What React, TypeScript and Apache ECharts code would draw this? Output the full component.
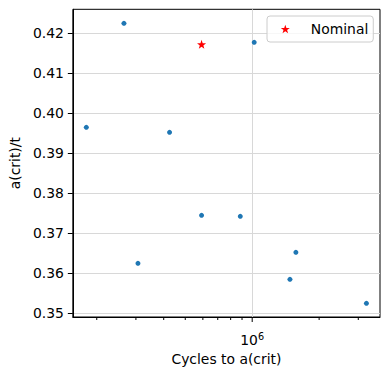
import React, { useEffect, useRef } from "react";
import * as echarts from "echarts";

const cycles = [1.795e5, 2.65e5, 3.064e5, 4.25e5, 5.92e5, 8.84e5, 1.021e6, 1.572e6, 1.478e6, 3.263e6];
const ratio = [0.3965, 0.4225, 0.3625, 0.39525, 0.3745, 0.37425, 0.41775, 0.36525, 0.3585, 0.3525];
const nominalCycles = [5.92e5];
const nominalRatio = [0.41725];
const yTicks = [0.35, 0.36, 0.37, 0.38, 0.39, 0.4, 0.41, 0.42];
const xMajorTicks = [1e6];
const xMinorTicks = [2e5, 3e5, 4e5, 5e5, 6e5, 7e5, 8e5, 9e5, 2e6, 3e6];

const STAR =
  "path://M0,-10 L2.35,-3.24 L9.51,-3.09 L3.8,1.24 L5.88,8.09 L0,4 L-5.88,8.09 L-3.8,1.24 L-9.51,-3.09 L-2.35,-3.24 Z";
const FONT = "DejaVu Sans";
const Y_MIN = 0.34908;
const Y_MAX = 0.426;

function tickSeries(values: number[], len: number) {
  return {
    type: "custom",
    xAxisIndex: 0,
    yAxisIndex: 0,
    silent: true,
    clip: false,
    z: 5,
    data: values.map((v) => [v, Y_MIN]),
    renderItem: (_p: any, api: any) => {
      const pt = api.coord([api.value(0), api.value(1)]);
      return {
        type: "line",
        shape: { x1: pt[0], y1: pt[1], x2: pt[0], y2: pt[1] + len },
        style: { stroke: "#000", lineWidth: 1 },
      };
    },
  };
}

export default function App() {
  const ref = useRef<HTMLDivElement>(null);
  useEffect(() => {
    const chart = echarts.init(ref.current!, null, { renderer: "svg" });
    const xMin = 1.561e5;
    const xMax = 3.756e6;
    chart.setOption({
      animation: false,
      textStyle: { fontFamily: FONT },
      grid: {
        left: 70.7,
        right: 10,
        top: 9.3,
        bottom: 58,
        show: true,
        borderColor: "#000",
        borderWidth: 1,
        backgroundColor: "transparent",
      },
      legend: {
        left: 267,
        top: 16,
        padding: [6, 5, 6, 13.8],
        itemWidth: 9,
        itemHeight: 9,
        backgroundColor: "rgba(255,255,255,0.8)",
        borderColor: "#cccccc",
        borderWidth: 1,
        borderRadius: 3,
        data: [{ name: "Nominal", icon: STAR }],
        textStyle: { fontFamily: FONT, fontSize: 13.9, color: "#000", padding: [0, 0, 0, 16] },
      },
      xAxis: {
        type: "log",
        logBase: 10,
        min: xMin,
        max: xMax,
        name: "Cycles to a(crit)",
        nameLocation: "middle",
        nameGap: 34,
        nameTextStyle: { fontFamily: FONT, fontSize: 13.9, color: "#000", verticalAlign: "top" },
        axisLine: { show: true, lineStyle: { color: "#000", width: 1 } },
        axisTick: { show: false, customValues: xMajorTicks },
        axisLabel: {
          customValues: xMajorTicks,
          margin: 14,
          formatter: () => "{b|10}{s|6}",
          rich: {
            b: { fontFamily: FONT, fontSize: 13.9, color: "#000" },
            s: { fontFamily: FONT, fontSize: 9.7, color: "#000", verticalAlign: "bottom", padding: [0, 0, 8, 0] },
          },
        },
        splitLine: { show: true, lineStyle: { color: "#d8d8d8", width: 1 } },
      },
      yAxis: {
        type: "value",
        min: Y_MIN,
        max: Y_MAX,
        name: "a(crit)/t",
        nameLocation: "middle",
        nameGap: 48,
        nameTextStyle: { fontFamily: FONT, fontSize: 13.9, color: "#000" },
        axisLine: { show: true, lineStyle: { color: "#000", width: 1 } },
        axisTick: { show: true, length: 5, customValues: yTicks, lineStyle: { color: "#000" } },
        axisLabel: {
          customValues: yTicks,
          margin: 9,
          fontFamily: FONT,
          fontSize: 13.9,
          color: "#000",
          formatter: (v: number) => v.toFixed(2),
        },
        splitLine: { show: true, lineStyle: { color: "#d8d8d8", width: 1 } },
      },
      series: [
        tickSeries(xMajorTicks, 5),
        tickSeries(xMinorTicks, 3),
        {
          type: "scatter",
          xAxisIndex: 0,
          data: cycles.map((c, i) => [c, ratio[i]]),
          symbolSize: 5,
          itemStyle: { color: "#1f77b4", opacity: 1 },
        },
        {
          name: "Nominal",
          type: "scatter",
          xAxisIndex: 0,
          data: nominalCycles.map((c, i) => [c, nominalRatio[i]]),
          symbol: STAR,
          symbolSize: 9,
          itemStyle: { color: "#ff0000", opacity: 1 },
        },
      ],
    });
    return () => chart.dispose();
  }, []);
  return <div ref={ref} style={{ width: 390, height: 375, margin: -8 }} />;
}
